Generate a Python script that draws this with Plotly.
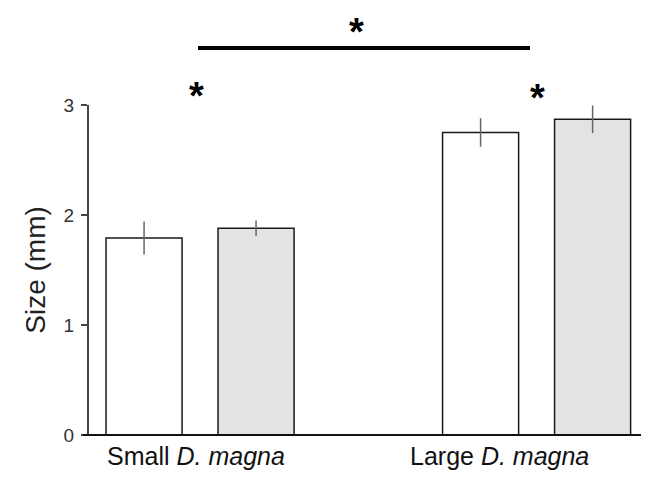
import plotly.graph_objects as go

categories = ["Small", "Large"]
label_text = ["Small <i>D. magna</i>", "Large <i>D. magna</i>"]
series_a = [1.79, 2.75]
series_a_err = [0.15, 0.13]
series_b = [1.88, 2.87]
series_b_err = [0.07, 0.125]
y_ticks = [0, 1, 2, 3]

OFF = 8  # page body margin
W, H = 649 - OFF, 479 - OFF
L, R, T, B = 89 - OFF, 0, 105 - OFF, 44
ph = H - T - B
pw = W - L - R

def py(p):  # reference pixel y -> paper
    return (479 - B - p) / ph

def px(p):  # reference pixel x -> paper
    return (p - 89) / pw

fig = go.Figure()
fig.add_trace(go.Bar(x=[0, 1], y=series_a, name=categories[0],
                     marker=dict(color="white", line=dict(color="#1a1a1a", width=1.5)),
                     error_y=dict(type="data", array=series_a_err, color="#666666", thickness=1.5, width=0),
                     showlegend=False))
fig.add_trace(go.Bar(x=[0, 1], y=series_b, name=categories[1],
                     marker=dict(color="#e3e3e3", line=dict(color="#1a1a1a", width=1.5)),
                     error_y=dict(type="data", array=series_b_err, color="#666666", thickness=1.5, width=0),
                     showlegend=False))

font = "Liberation Sans, Arial, sans-serif"
fig.update_layout(
    width=W, height=H, margin=dict(l=L, r=R, t=T, b=B),
    paper_bgcolor="white", plot_bgcolor="white",
    barmode="group", bargap=0.3344, bargroupgap=0.321,
    font=dict(family=font, color="#222222"),
    xaxis=dict(type="linear", range=[-0.33, 1.334], showticklabels=False, ticks="", showline=False,
               showgrid=False, zeroline=False),
    yaxis=dict(range=[0, 3], tickvals=y_ticks, ticks="outside", ticklen=6, tickwidth=2, tickcolor="#444444",
               showline=True, linecolor="#444444", linewidth=2, showgrid=False, zeroline=False,
               tickfont=dict(size=19, color="#333333", family=font), ticklabelstandoff=3,
               title=dict(text="Size (mm)", font=dict(size=28, color="#222222", family=font), standoff=10)),
)

# baseline
fig.add_shape(type="line", xref="paper", yref="paper", x0=px(83), x1=1.0, y0=0, y1=0,
              line=dict(color="#111111", width=2))
# significance line
fig.add_shape(type="line", xref="paper", yref="paper", x0=px(198), x1=px(530), y0=py(48), y1=py(48),
              line=dict(color="black", width=4))

for xpix, ypix, anchor in [(356, 9, "top"), (196, 96, "middle"), (537, 98, "middle")]:
    fig.add_annotation(text="<b>*</b>", xref="paper", yref="paper", x=px(xpix), y=py(ypix),
                       showarrow=False, xanchor="center", yanchor=anchor,
                       font=dict(size=38, color="black", family=font))

for xpix, t in zip([196, 500], label_text):
    fig.add_annotation(text=t, xref="paper", yref="paper", x=px(xpix), y=py(456),
                       showarrow=False, xanchor="center", yanchor="middle",
                       font=dict(size=25, color="#111111", family=font))

fig.write_html("out.html")
